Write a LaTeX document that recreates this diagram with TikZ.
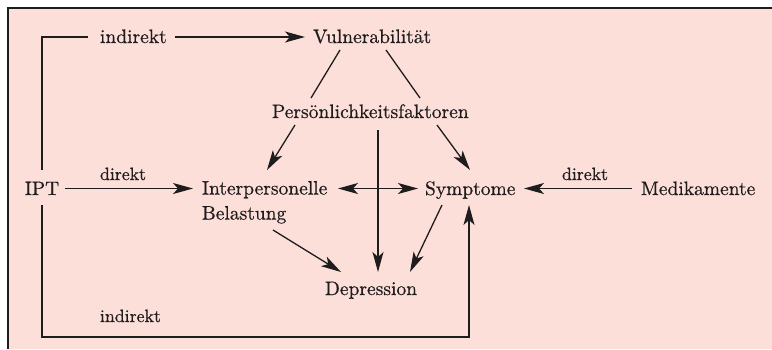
\documentclass[tikz,border=0pt]{standalone}
\usepackage{fontspec}
\setmainfont{lmroman10-regular.otf}[FakeBold=0.5]
\usetikzlibrary{calc,arrows.meta}
\definecolor{bgpink}{RGB}{253,223,218}
\definecolor{ink}{RGB}{30,28,28}
\begin{document}
\begin{tikzpicture}[x=1pt,y=-1pt,
  txt/.style={inner sep=0pt,outer sep=0pt,text=ink,font=\fontsize{19.5}{25}\selectfont},
  lbl/.style={inner sep=0pt,outer sep=0pt,text=ink,font=\fontsize{17.8}{21}\selectfont},
  con/.style={draw=ink,line width=1.3pt},
  arr/.style={con,-{Stealth[length=20pt,width=11pt,inset=5pt]}},
  darr/.style={con,{Stealth[length=20pt,width=11pt,inset=5pt]}-{Stealth[length=20pt,width=11pt,inset=5pt]}}]
\useasboundingbox (0,0) rectangle (772,349);
\fill[bgpink] (8,8) rectangle (772,349);
\draw[ink,line width=2pt] (8,349) -- (8,8) -- (772,8);
% nodes
\node[txt,anchor=base] (ipt) at (42,195) {IPT};
\node[txt,anchor=base west] (vul) at (313,43) {Vulnerabilität};
\node[txt,anchor=base west] (pers) at (272,118) {Persönlichkeitsfaktoren};
\node[txt,anchor=north west,align=left] (inter) at (202,181) {Interpersonelle\\Belastung};
\node[txt,anchor=base west] (sym) at (425,195) {Symptome};
\node[txt,anchor=base west] (med) at (641,195) {Medikamente};
\node[txt,anchor=base west] (dep) at (325,295) {Depression};
\node[txt,anchor=base west] (lind) at (100,43) {indirekt};
\node[lbl,anchor=base west] (ld1) at (100,180) {direkt};
\node[lbl,anchor=base west] (ld2) at (562,180) {direkt};
\node[lbl,anchor=base west] (lind2) at (100,322) {indirekt};
% connectors
\draw[con] ($(ipt.base)+(0,-25)$) |- ($(lind.base west)+(-12,-6)$);
\draw[arr] ($(lind.base west)+(75,-6)$) -- ($(vul.base west)+(-8,-6)$);
\draw[arr] ($(ipt.base)+(0,10)$) -- ++(0,132) -| ($(sym.base west)+(44,10)$);
\draw[arr] ($(ipt.base)+(23,-6.5)$) -- ($(inter.north west)+(-9,7.5)$);
\draw[darr] ($(inter.north west)+(136,7.5)$) -- ($(sym.base west)+(-7,-6.5)$);
\draw[arr] ($(med.base west)+(-9,-6.5)$) -- ($(sym.base west)+(99,-6.5)$);
\draw[con] ($(vul.base west)+(27,7)$) -- ($(pers.base west)+(39,-20)$);
\draw[con] ($(vul.base west)+(73,7)$) -- ($(pers.base west)+(148,-20)$);
\draw[arr] ($(pers.base west)+(23,7)$) -- ($(inter.north west)+(65,-11)$);
\draw[arr] ($(pers.base west)+(165,7)$) -- ($(sym.base west)+(45,-25)$);
\draw[arr] ($(pers.base west)+(106,12)$) -- ($(dep.base west)+(53,-23)$);
\draw[arr] ($(inter.north west)+(71,49)$) -- ($(dep.base west)+(16,-23)$);
\draw[arr] ($(sym.base west)+(17,10)$) -- ($(dep.base west)+(85,-23)$);
\end{tikzpicture}
\end{document}
